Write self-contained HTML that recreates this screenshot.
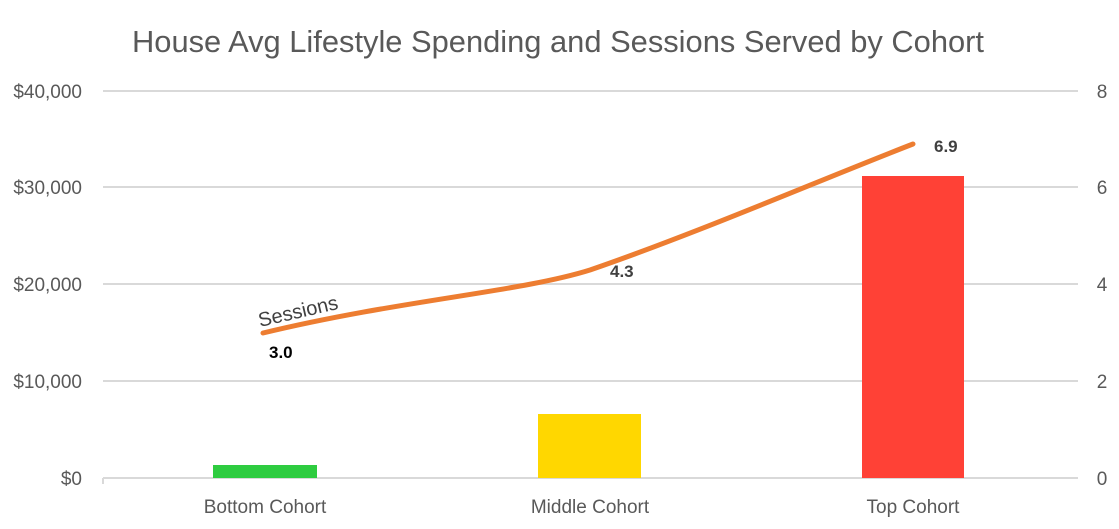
<!DOCTYPE html>
<html><head><meta charset="utf-8"><style>
html,body{margin:0;padding:0;background:#fff;}
svg{display:block;font-family:"Liberation Sans",sans-serif;}
</style></head><body>
<svg width="1119" height="529" viewBox="0 0 1119 529">
<text x="558" y="52" text-anchor="middle" font-size="31" fill="#595959" textLength="852" lengthAdjust="spacingAndGlyphs">House Avg Lifestyle Spending and Sessions Served by Cohort</text>
<g stroke="#d9d9d9" stroke-width="2">
<line x1="103" y1="91" x2="1078" y2="91"/>
<line x1="103" y1="187" x2="1078" y2="187"/>
<line x1="103" y1="284" x2="1078" y2="284"/>
<line x1="103" y1="381" x2="1078" y2="381"/>
<line x1="103" y1="478" x2="1078" y2="478"/>
<line x1="103" y1="478" x2="103" y2="484"/>
</g>
<g font-size="19" fill="#595959" text-anchor="end">
<text x="82" y="98">$40,000</text>
<text x="82" y="194">$30,000</text>
<text x="82" y="291">$20,000</text>
<text x="82" y="388">$10,000</text>
<text x="82" y="485">$0</text>
</g>
<g font-size="19" fill="#595959" text-anchor="middle">
<text x="1102" y="98">8</text>
<text x="1102" y="194">6</text>
<text x="1102" y="291">4</text>
<text x="1102" y="388">2</text>
<text x="1102" y="485">0</text>
<text x="265" y="513">Bottom Cohort</text>
<text x="590" y="513">Middle Cohort</text>
<text x="913" y="513">Top Cohort</text>
</g>
<rect x="213" y="465" width="104" height="13" fill="#2ecc40"/>
<rect x="538" y="414" width="103" height="64" fill="#ffd700"/>
<rect x="862" y="176" width="102" height="302" fill="#ff4136"/>
<path d="M263,333 C400,300 520,292 590,270 C700,232 820,180 913,144" fill="none" stroke="#ed7d31" stroke-width="5" stroke-linecap="round"/>
<text x="260" y="327" font-size="20" fill="#404040" transform="rotate(-13 260 327)">Sessions</text>
<g font-size="17" font-weight="bold">
<text x="269" y="358" fill="#000">3.0</text>
<text x="610" y="277" fill="#404040">4.3</text>
<text x="934" y="152" fill="#404040">6.9</text>
</g>
</svg>
</body></html>
